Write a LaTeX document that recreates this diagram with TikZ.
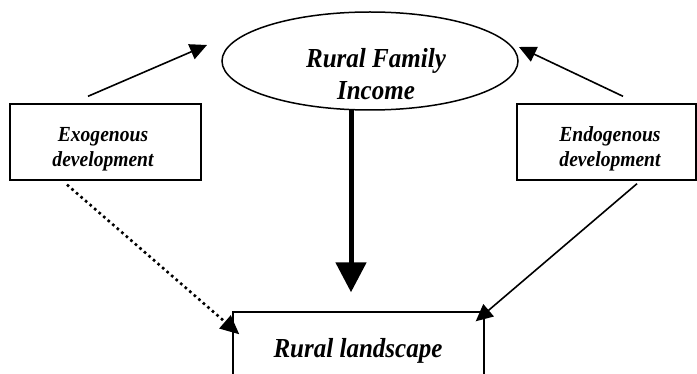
\documentclass[tikz,border=0pt]{standalone}
\usepackage{fontspec}
\setmainfont{Liberation Serif}
\newfontfamily\lblfont{Liberation Serif}[FakeStretch=0.91]
\usetikzlibrary{arrows.meta,shapes.geometric}
\begin{document}
\begin{tikzpicture}[x=1pt,y=-1pt,
  boxshape/.style={draw,line width=1.4pt,inner sep=0pt},
  lbl/.style={align=center,inner sep=0pt,anchor=base},
  thin/.style={line width=1.6pt,-{Triangle[length=17pt,width=16pt]}},
  thick/.style={line width=5pt,-{Triangle[length=30pt,width=30pt]}},
  dotline/.style={line width=2.6pt,dash pattern=on 2.6pt off 3.4pt,-{Triangle[length=19pt,width=17pt]}}]
\clip (0,0) rectangle (697,374);
\fill[white] (0,0) rectangle (697,374);
\node[ellipse,draw,line width=1.5pt,minimum width=296pt,minimum height=98pt,inner sep=0pt] (fam) at (370,61) {};
\node[lbl,font=\lblfont\fontsize{27.5}{32}\selectfont\bfseries\itshape] (famtext) at (376,100) {Rural Family\\Income};
\node[boxshape,minimum width=191pt,minimum height=76pt] (exo) at (105.5,142) {};
\node[lbl,font=\lblfont\fontsize{21.5}{25}\selectfont\bfseries\itshape] (exotext) at (103,167) {Exogenous\\development};
\node[boxshape,minimum width=179pt,minimum height=76pt] (endo) at (606.5,142) {};
\node[lbl,font=\lblfont\fontsize{21.5}{25}\selectfont\bfseries\itshape] (endotext) at (610,167) {Endogenous\\development};
\node[boxshape,minimum width=251pt,minimum height=120pt] (land) at (358.5,372) {};
\node[lbl,font=\lblfont\fontsize{27.5}{30}\selectfont\bfseries\itshape] (landtext) at (358,358) {Rural landscape};
\draw[thin] ([shift={(-17.5,-7)}]exo.north) -- ([shift={(-163,-16)}]fam.center);
\draw[thin] ([shift={(16.5,-7)}]endo.north) -- ([shift={(149,-14)}]fam.center);
\draw[thick] ([shift={(-19,-1)}]fam.south) -- ([shift={(-7.5,-19)}]land.north);
\draw[dotline] ([shift={(-38.5,4)}]exo.south) -- ([shift={(7,23)}]land.north west);
\draw[thin] ([shift={(30.5,3)}]endo.south) -- ([shift={(-9,10)}]land.north east);
\end{tikzpicture}
\end{document}
